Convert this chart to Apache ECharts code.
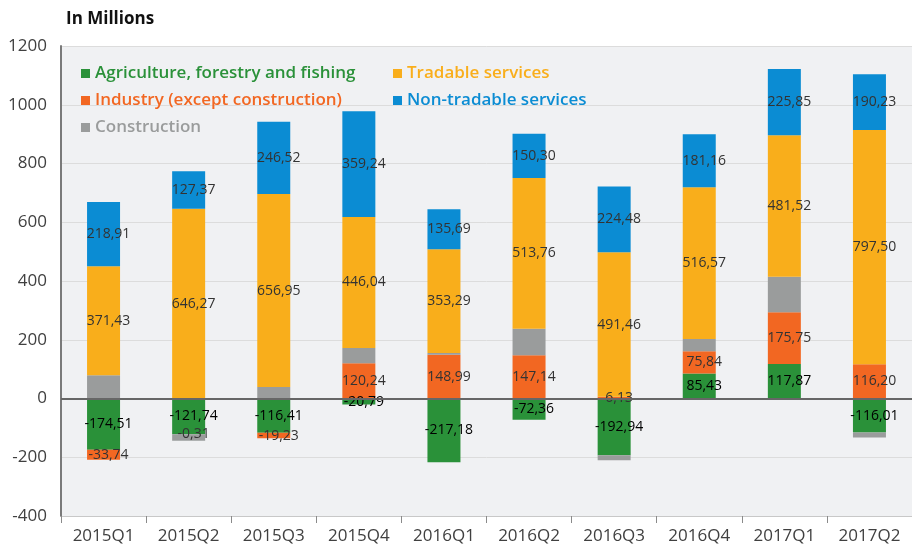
<!DOCTYPE html>
<html><head><meta charset="utf-8">
<script src="https://cdn.jsdelivr.net/npm/echarts@6/dist/echarts.min.js"></script>
<style>html,body{margin:0;padding:0;background:#fff}#c{width:912px;height:547px}</style>
</head><body><div id="c"></div>
<script>
const categories = ['2015Q1','2015Q2','2015Q3','2015Q4','2016Q1','2016Q2','2016Q3','2016Q4','2017Q1','2017Q2'];
const agriculture = [-174.51,-121.74,-116.41,-20.79,-217.18,-72.36,-192.94,85.43,117.87,-116.01];
const industry = [-33.74,-0.31,-19.23,120.24,148.99,147.14,6.13,75.84,175.75,116.20];
const construction = [79,-22,39,52,6,90,-17,41,121,-17];
const tradable = [371.43,646.27,656.95,446.04,353.29,513.76,491.46,516.57,481.52,797.50];
const nonTradable = [218.91,127.37,246.52,359.24,135.69,150.30,224.48,181.16,225.85,190.23];
const yTicks = {min:-400, max:1200, interval:200};

const FONT = '"Open Sans", "Noto Sans", sans-serif';
const colors = {agr:'#2a9139', ind:'#f26722', con:'#9a9c9c', tra:'#f9ae1b', non:'#0b8cd3'};
const fmt = p => p.value.toFixed(2).replace('.', ',');
function lab(color){
  return {show:true, position:'inside', offset:[5,0], formatter:fmt, color:color,
          fontFamily:FONT, fontSize:14, textBorderWidth:0};
}
const chart = echarts.init(document.getElementById('c'), null, {renderer:'canvas'});
chart.setOption({
  animation:false,
  backgroundColor:'#fff',
  title:{text:'In Millions', left:61, top:6, textStyle:{fontFamily:FONT, fontSize:17, fontWeight:'bold', color:'#111'}},
  grid:{left:61, top:46, width:854, height:470, show:true, backgroundColor:'#f0f1f3', borderWidth:0, containLabel:false},
  legend:[
    {orient:'vertical', left:76, top:60, itemWidth:9, itemHeight:9, itemGap:10, icon:'rect',
     textStyle:{fontFamily:FONT, fontSize:17, fontWeight:600},
     data:[{name:'Agriculture, forestry and fishing', textStyle:{color:colors.agr}},
           {name:'Industry (except construction)', textStyle:{color:colors.ind}},
           {name:'Construction', textStyle:{color:colors.con}}]},
    {orient:'vertical', left:388, top:60, itemWidth:9, itemHeight:9, itemGap:10, icon:'rect',
     textStyle:{fontFamily:FONT, fontSize:17, fontWeight:600},
     data:[{name:'Tradable services', textStyle:{color:colors.tra}},
           {name:'Non-tradable services', textStyle:{color:colors.non}}]}
  ],
  xAxis:{type:'category', data:categories, axisLine:{onZero:false, lineStyle:{color:'#c8c8c8', width:1}},
    axisTick:{show:true, length:7, lineStyle:{color:'#8a8a8a', width:1}},
    axisLabel:{fontFamily:FONT, fontSize:17, color:'#404040', margin:12}},
  yAxis:{type:'value', min:yTicks.min, max:yTicks.max, interval:yTicks.interval,
    axisLine:{show:true, lineStyle:{color:'#7a7a7a', width:2}}, axisTick:{show:false},
    splitLine:{lineStyle:{color:'#dcdcdc', width:1}},
    axisLabel:{fontFamily:FONT, fontSize:17, color:'#404040', margin:14, formatter: v => String(v)}},
  series:[
    {name:'Agriculture, forestry and fishing', type:'bar', stack:'s', barWidth:33, data:agriculture,
     itemStyle:{color:colors.agr}, label:lab('#000'),
     markLine:{silent:true, symbol:'none', label:{show:false}, lineStyle:{color:'#666', width:2, type:'solid'}, data:[{yAxis:0}], z:10}},
    {name:'Industry (except construction)', type:'bar', stack:'s', barWidth:33, data:industry,
     itemStyle:{color:colors.ind}, label:lab('#333')},
    {name:'Construction', type:'bar', stack:'s', barWidth:33, data:construction,
     itemStyle:{color:colors.con}, label:{show:false}},
    {name:'Tradable services', type:'bar', stack:'s', barWidth:33, data:tradable,
     itemStyle:{color:colors.tra}, label:lab('#333')},
    {name:'Non-tradable services', type:'bar', stack:'s', barWidth:33, data:nonTradable,
     itemStyle:{color:colors.non}, label:lab('#333')}
  ]
});
</script></body></html>
